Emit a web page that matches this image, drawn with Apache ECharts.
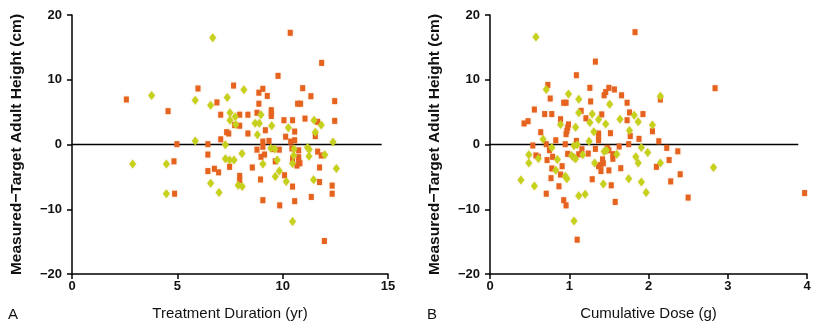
<!DOCTYPE html>
<html>
<head>
<meta charset="utf-8">
<script src="https://cdn.jsdelivr.net/npm/echarts@6/dist/echarts.min.js"></script>
<style>html,body{margin:0;padding:0;background:#fff}#c{width:821px;height:328px}</style>
</head>
<body>
<div id="c"></div>
<script>
var leftOrange = [[2.58,6.95],[4.56,5.15],[4.98,0.05],[4.84,-2.6],[4.87,-7.6],[5.98,8.65],[6.45,0.05],[6.45,-1.55],[6.45,-4.1],[6.76,-3.75],[6.96,-4.3],[6.88,6.5],[7.06,4.6],[7.06,0.8],[7.34,1.9],[7.44,1.7],[7.48,-3.45],[7.67,9.1],[7.72,3.0],[7.96,2.9],[7.96,4.6],[7.96,-4.85],[7.96,-5.5],[8.35,4.6],[8.35,1.7],[8.56,-3.55],[8.78,4.9],[8.78,-0.8],[8.87,8.0],[8.87,6.3],[8.95,-5.4],[8.97,-1.9],[9.06,8.6],[9.06,0.45],[9.06,-0.35],[9.06,-8.6],[9.14,-1.55],[9.18,2.2],[9.27,7.5],[9.35,0.55],[9.46,5.3],[9.46,4.8],[9.46,4.4],[9.54,-0.7],[9.65,-2.6],[9.78,10.6],[9.84,-0.8],[9.86,-9.4],[10.06,3.75],[10.09,-4.75],[10.14,1.2],[10.36,17.25],[10.38,0.45],[10.44,-0.6],[10.47,3.75],[10.47,-2.2],[10.47,-6.5],[10.57,2.0],[10.57,0.65],[10.57,-8.75],[10.68,-3.25],[10.71,6.3],[10.76,-0.9],[10.76,-1.96],[10.76,-2.6],[10.82,-2.9],[10.85,6.3],[10.95,8.7],[11.06,4.0],[11.34,7.46],[11.36,-8.1],[11.55,1.3],[11.66,3.5],[11.66,-1.1],[11.75,-3.55],[11.75,-5.8],[11.83,-1.7],[11.85,12.6],[11.98,-14.9],[12.35,-6.35],[12.35,-7.6],[12.47,6.7],[12.47,3.65]];
var leftGreen = [[2.88,-3.0],[3.78,7.57],[4.48,-3.0],[4.48,-7.6],[5.85,6.85],[5.85,0.55],[6.58,6.05],[6.58,-6.0],[6.68,16.5],[6.98,-7.4],[7.28,-0.05],[7.28,-2.2],[7.37,7.25],[7.48,-2.4],[7.5,4.9],[7.5,3.75],[7.69,-2.4],[7.75,4.3],[7.77,3.1],[7.89,-6.3],[8.07,-1.4],[8.08,-6.5],[8.16,8.45],[8.69,3.3],[8.8,1.5],[8.89,3.3],[8.97,4.6],[9.06,-3.0],[9.44,-0.57],[9.48,2.9],[9.63,-0.68],[9.65,-4.95],[9.74,-2.4],[9.84,-4.1],[10.17,-5.7],[10.27,2.6],[10.47,-2.95],[10.47,-11.9],[10.52,-1.7],[10.54,-0.68],[11.18,-0.46],[11.25,-1.8],[11.26,-0.77],[11.47,-5.45],[11.49,3.75],[11.55,1.9],[11.83,3.0],[12.0,-1.6],[12.39,0.4],[12.55,-3.7]];
var rightOrange = [[0.43,3.25],[0.48,3.6],[0.54,-0.15],[0.56,5.4],[0.58,-1.7],[0.61,-1.9],[0.64,1.9],[0.69,4.7],[0.71,0.05],[0.71,-7.6],[0.72,-2.4],[0.73,9.2],[0.75,-0.88],[0.76,7.1],[0.77,-5.2],[0.78,4.7],[0.78,-3.7],[0.79,-1.9],[0.83,0.65],[0.87,-6.45],[0.89,3.9],[0.89,-4.64],[0.91,-3.35],[0.93,6.45],[0.93,-8.6],[0.95,0.05],[0.96,6.45],[0.96,1.6],[0.96,-9.4],[0.97,2.1],[0.98,2.6],[0.98,-1.45],[0.99,3.1],[1.09,10.7],[1.09,0.55],[1.10,-14.7],[1.12,-1.5],[1.15,5.2],[1.16,-0.73],[1.21,4.05],[1.24,-1.4],[1.26,8.75],[1.27,6.65],[1.29,-5.36],[1.33,12.8],[1.33,-0.68],[1.37,1.7],[1.37,1.1],[1.37,0.65],[1.37,-3.35],[1.40,-3.15],[1.40,-4.1],[1.41,4.65],[1.42,-2.3],[1.43,-2.9],[1.44,7.6],[1.46,8.1],[1.48,-0.52],[1.50,8.75],[1.50,-0.88],[1.50,-4.0],[1.52,1.75],[1.53,-6.3],[1.55,-1.5],[1.55,-2.2],[1.57,8.5],[1.58,-8.87],[1.63,-0.3],[1.65,-3.66],[1.66,7.6],[1.73,6.45],[1.73,3.75],[1.75,0.05],[1.76,4.95],[1.77,1.3],[1.83,17.35],[1.88,0.87],[1.93,4.7],[2.05,2.05],[2.10,-3.45],[2.13,0.5],[2.15,6.95],[2.23,-0.52],[2.26,-2.4],[2.28,-5.7],[2.37,-1.05],[2.40,-4.6],[2.50,-8.2],[2.84,8.7],[3.97,-7.5]];
var rightGreen = [[0.39,-5.5],[0.49,-1.6],[0.49,-2.85],[0.56,-6.4],[0.58,16.6],[0.61,-2.15],[0.67,0.8],[0.71,8.5],[0.78,-0.47],[0.83,-3.97],[0.85,-2.3],[0.89,3.1],[0.95,-4.9],[0.97,-5.3],[0.99,7.8],[1.03,-1.7],[1.06,-2.0],[1.06,-0.2],[1.06,-11.8],[1.08,-2.2],[1.08,2.65],[1.10,-0.05],[1.12,7.0],[1.12,4.9],[1.12,-7.9],[1.17,-1.6],[1.20,-7.7],[1.25,0.5],[1.26,3.4],[1.29,4.7],[1.31,1.95],[1.32,-2.85],[1.37,3.85],[1.43,-6.1],[1.44,-1.08],[1.46,3.15],[1.47,-0.88],[1.51,6.2],[1.60,-1.5],[1.64,3.9],[1.75,-5.3],[1.76,2.15],[1.82,4.5],[1.84,-1.9],[1.87,-2.85],[1.87,3.5],[1.91,-0.47],[1.91,-5.8],[1.97,-7.4],[1.99,-1.25],[2.05,3.0],[2.15,7.45],[2.15,-2.85],[2.82,-3.55]];
var zeroLineLeft = [[0,0],[14.7,0]];
var zeroLineRight = [[0,0],[3.89,0]];
var xTicksLeft = [0,5,10,15];
var xTicksRight = [0,1,2,3,4];
var yTicks = [-20,-10,0,10,20];
var yAxisTitle = 'Measured\u2212Target Adult Height (cm)';
var xTitleLeft = 'Treatment Duration (yr)';
var xTitleRight = 'Cumulative Dose (g)';
var panelLabels = ['A','B'];

var ORANGE = '#e5621f';
var GREEN = '#c4d21c';
var FONT = '"Liberation Sans", Arial, sans-serif';

function xAxis(idx, max, interval, name) {
  return {
    type: 'value', gridIndex: idx, min: 0, max: max, interval: interval,
    name: name, nameLocation: 'middle', nameGap: 32,
    nameTextStyle: {fontFamily: FONT, fontSize: 15, color: '#111'},
    axisLine: {show: true, onZero: false, lineStyle: {color: '#000', width: 1.5}},
    axisTick: {show: true, inside: false, length: 5, lineStyle: {color: '#000', width: 1.5}},
    axisLabel: {fontFamily: FONT, fontSize: 13, fontWeight: 'bold', color: '#111', margin: 6},
    splitLine: {show: false}
  };
}
function yAxis(idx) {
  return {
    type: 'value', gridIndex: idx, min: -20, max: 20, interval: 10,
    name: yAxisTitle, nameLocation: 'middle', nameGap: 47, nameRotate: 90,
    nameTextStyle: {fontFamily: FONT, fontSize: 15.5, fontWeight: 'bold', color: '#111'},
    axisLine: {show: true, onZero: false, lineStyle: {color: '#000', width: 1.5}},
    axisTick: {show: true, inside: false, length: 5, lineStyle: {color: '#000', width: 1.5}},
    axisLabel: {fontFamily: FONT, fontSize: 13, fontWeight: 'bold', color: '#111', margin: 10,
      formatter: function (v) { return String(v).replace('-', '\u2212'); }},
    splitLine: {show: false}
  };
}
function scatter(idx, data, sym, size, color) {
  return {
    type: 'scatter', xAxisIndex: idx, yAxisIndex: idx, data: data,
    symbol: sym, symbolSize: size, silent: true,
    itemStyle: {color: color, opacity: 1, shadowBlur: 2, shadowColor: 'rgba(240,140,60,0.35)'}
  };
}
function zero(idx, data) {
  return {
    type: 'line', xAxisIndex: idx, yAxisIndex: idx, data: data, symbol: 'none', silent: true,
    lineStyle: {color: '#000', width: 1.5}, z: 1
  };
}

var chart = echarts.init(document.getElementById('c'), null, {renderer: 'canvas'});
chart.setOption({
  animation: false,
  backgroundColor: '#fff',
  grid: [
    {left: 72, top: 15, width: 316, height: 259},
    {left: 490, top: 15, width: 317, height: 259}
  ],
  xAxis: [xAxis(0, 15, 5, xTitleLeft), xAxis(1, 4, 1, xTitleRight)],
  yAxis: [yAxis(0), yAxis(1)],
  graphic: [
    {type: 'text', left: 8, top: 307, style: {text: panelLabels[0], font: '15px ' + FONT, fill: '#111'}},
    {type: 'text', left: 427, top: 307, style: {text: panelLabels[1], font: '15px ' + FONT, fill: '#111'}}
  ],
  series: [
    zero(0, zeroLineLeft), zero(1, zeroLineRight),
    scatter(0, leftOrange, 'rect', [5, 6], ORANGE),
    scatter(0, leftGreen, 'diamond', [7, 9], GREEN),
    scatter(1, rightOrange, 'rect', [5, 6], ORANGE),
    scatter(1, rightGreen, 'diamond', [7, 9], GREEN)
  ]
});
</script>
</body>
</html>
